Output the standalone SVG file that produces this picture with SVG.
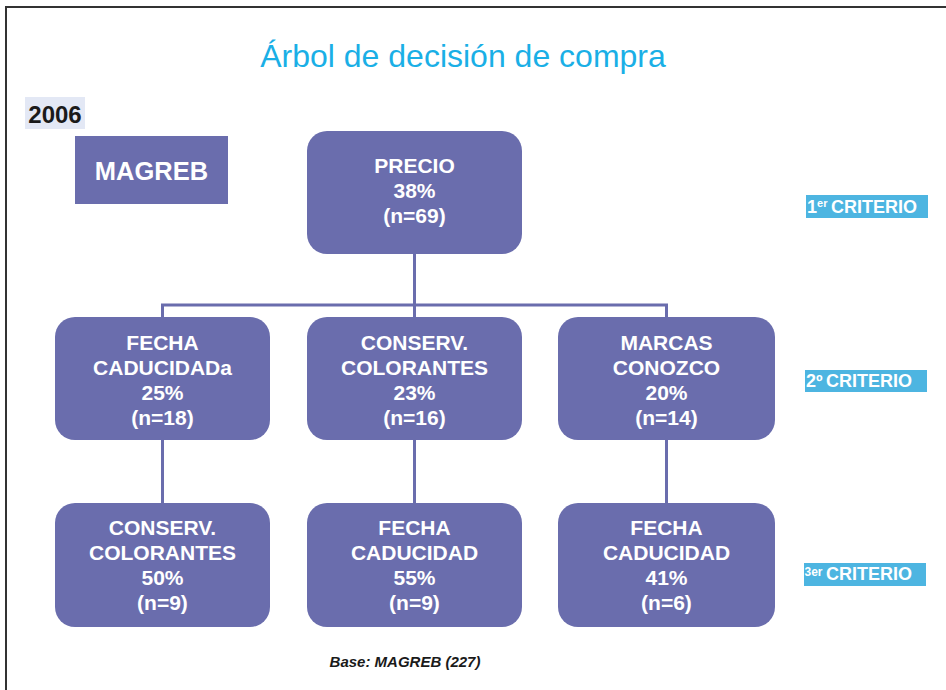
<svg xmlns="http://www.w3.org/2000/svg" width="946" height="690" viewBox="0 0 946 690">
<style>
.node{fill:#6a6dad}
.nt{font-family:"Liberation Sans",Arial,sans-serif;font-weight:bold;font-size:21px;fill:#ffffff;text-anchor:middle}
.conn{stroke:#6a6dad;stroke-width:3;fill:none}
.crit{fill:#4db5e1}
.ct{font-family:"Liberation Sans",Arial,sans-serif;font-weight:bold;font-size:18px;fill:#ffffff}
</style>
<rect width="946" height="690" fill="#ffffff"/>
<path d="M6 690 V7 H946" fill="none" stroke="#333333" stroke-width="2"/>
<text x="463" y="67" font-family="'Liberation Sans',Arial,sans-serif" font-size="32" fill="#1aafe6" text-anchor="middle">Árbol de decisión de compra</text>
<g id="year">
<rect x="25" y="97" width="60" height="32" fill="#e3e8f5"/>
<text x="55" y="123" font-family="'Liberation Sans',Arial,sans-serif" font-weight="bold" font-size="24" fill="#1a1a1a" text-anchor="middle">2006</text>
</g>
<g id="magreb">
<rect x="75" y="136" width="153" height="68" class="node"/>
<text x="151.5" y="180" class="nt" style="font-size:25.5px">MAGREB</text>
</g>
<g id="connectors">
<line x1="414.5" y1="254" x2="414.5" y2="317" class="conn"/>
<polyline points="162.5,317 162.5,305 666.5,305 666.5,317" class="conn"/>
<line x1="162.5" y1="440" x2="162.5" y2="503" class="conn"/>
<line x1="414.5" y1="440" x2="414.5" y2="503" class="conn"/>
<line x1="666.5" y1="440" x2="666.5" y2="503" class="conn"/>
</g>
<g id="precio">
<rect x="307" y="131" width="215" height="123" rx="20" class="node"/>
<text class="nt"><tspan x="414.5" y="173">PRECIO</tspan><tspan x="414.5" y="198">38%</tspan><tspan x="414.5" y="223">(n=69)</tspan></text>
</g>
<g id="fecha1">
<rect x="55" y="317" width="215" height="123" rx="20" class="node"/>
<text class="nt"><tspan x="162.5" y="350">FECHA</tspan><tspan x="162.5" y="375">CADUCIDADa</tspan><tspan x="162.5" y="400">25%</tspan><tspan x="162.5" y="425">(n=18)</tspan></text>
</g>
<g id="conserv1">
<rect x="307" y="317" width="215" height="123" rx="20" class="node"/>
<text class="nt"><tspan x="414.5" y="350">CONSERV.</tspan><tspan x="414.5" y="375">COLORANTES</tspan><tspan x="414.5" y="400">23%</tspan><tspan x="414.5" y="425">(n=16)</tspan></text>
</g>
<g id="marcas">
<rect x="558" y="317" width="217" height="123" rx="20" class="node"/>
<text class="nt"><tspan x="666.5" y="350">MARCAS</tspan><tspan x="666.5" y="375">CONOZCO</tspan><tspan x="666.5" y="400">20%</tspan><tspan x="666.5" y="425">(n=14)</tspan></text>
</g>
<g id="conserv2">
<rect x="55" y="503" width="215" height="124" rx="20" class="node"/>
<text class="nt"><tspan x="162.5" y="535">CONSERV.</tspan><tspan x="162.5" y="560">COLORANTES</tspan><tspan x="162.5" y="585">50%</tspan><tspan x="162.5" y="610">(n=9)</tspan></text>
</g>
<g id="fecha2">
<rect x="307" y="503" width="215" height="124" rx="20" class="node"/>
<text class="nt"><tspan x="414.5" y="535">FECHA</tspan><tspan x="414.5" y="560">CADUCIDAD</tspan><tspan x="414.5" y="585">55%</tspan><tspan x="414.5" y="610">(n=9)</tspan></text>
</g>
<g id="fecha3">
<rect x="558" y="503" width="217" height="124" rx="20" class="node"/>
<text class="nt"><tspan x="666.5" y="535">FECHA</tspan><tspan x="666.5" y="560">CADUCIDAD</tspan><tspan x="666.5" y="585">41%</tspan><tspan x="666.5" y="610">(n=6)</tspan></text>
</g>
<g id="crit1">
<rect x="806" y="195" width="122" height="23" class="crit"/>
<text x="807" y="213" class="ct">1<tspan style="font-size:11px" dy="-6">er</tspan><tspan dy="6" x="831">CRITERIO</tspan></text>
</g>
<g id="crit2">
<rect x="805" y="370" width="122" height="22" class="crit"/>
<text x="806" y="387" class="ct">2º<tspan x="826">CRITERIO</tspan></text>
</g>
<g id="crit3">
<rect x="804" y="563" width="122" height="23" class="crit"/>
<text x="804.5" y="576" class="ct" style="font-size:12px">3er</text>
<text x="826" y="580" class="ct">CRITERIO</text>
</g>
<text x="405" y="667" font-family="'Liberation Sans',Arial,sans-serif" font-weight="bold" font-style="italic" font-size="15" fill="#1a1a1a" text-anchor="middle">Base: MAGREB (227)</text>
</svg>
